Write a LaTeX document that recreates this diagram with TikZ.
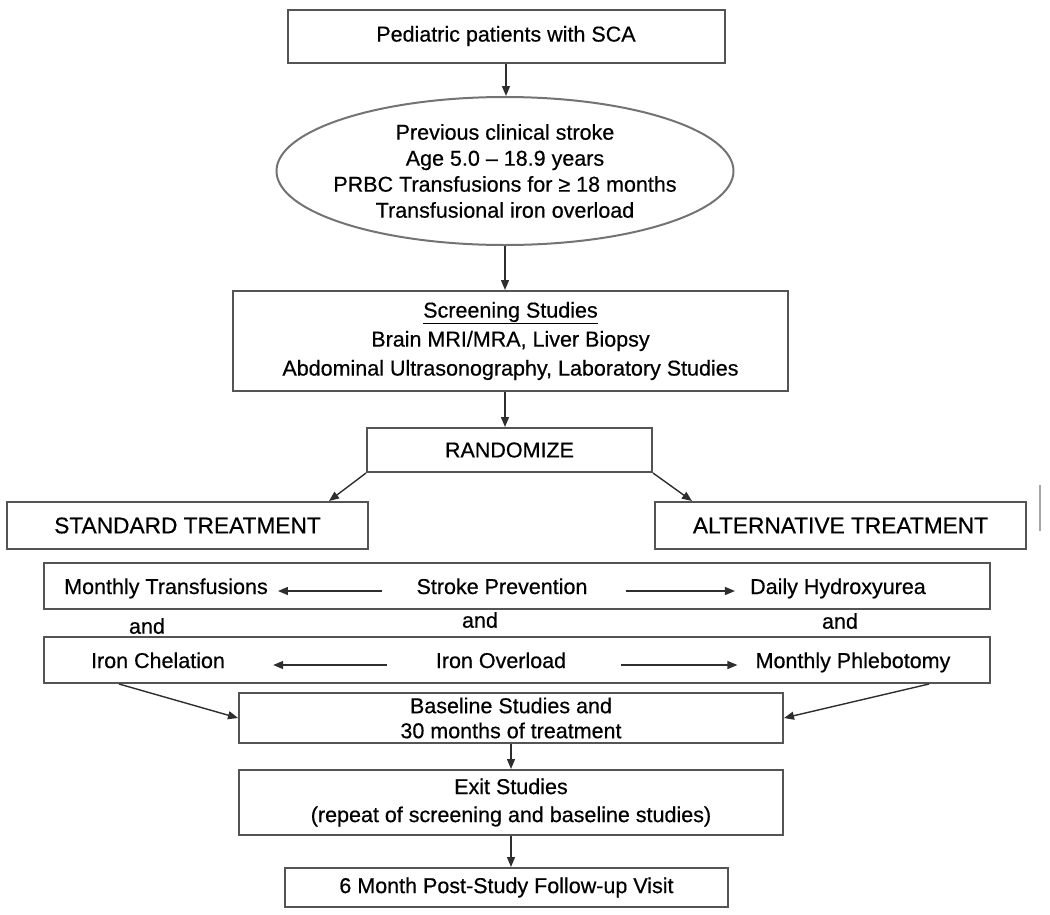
\documentclass[tikz,border=0pt]{standalone}
\usepackage{fontspec}
\setmainfont[FakeBold=0.5]{Liberation Sans}
\usetikzlibrary{shapes.geometric,arrows.meta}

\newlength{\du}
\setlength{\du}{1pt}

\definecolor{boxcolor}{rgb}{0.33,0.33,0.33}
\definecolor{ovalcolor}{rgb}{0.45,0.45,0.45}
\definecolor{arrowcolor}{rgb}{0.18,0.18,0.18}

\tikzset{
  stagebox/.style={draw=boxcolor, line width=2pt, inner sep=0pt, align=center},
  txt/.style={inner sep=0pt, align=center},
  rowtxt/.style={inner sep=0pt, text height=11pt, text depth=5pt},
  flow/.style={draw=arrowcolor, line width=1.4pt, -{Triangle[length=10pt,width=8pt]}},
}

\begin{document}
\begin{tikzpicture}[x=1\du,y=-1\du,font=\fontsize{21.5}{26}\selectfont]
\useasboundingbox (0,0) rectangle (1050,914);

\node[stagebox, minimum width=437\du, minimum height=53\du] (pat) at (506,36) {Pediatric patients with SCA};
\node[draw=ovalcolor, line width=2pt, ellipse, inner sep=0pt, minimum width=457\du, minimum height=148\du] (elig) at (505,171) {};
\node[txt] (eligtext) at (elig.center) {Previous clinical stroke\\Age 5.0 -- 18.9 years\\PRBC Transfusions for ≥ 18 months\\Transfusional iron overload};
\node[stagebox, minimum width=555\du, minimum height=100\du, font=\fontsize{21.5}{29}\selectfont] (screen) at (510.5,341) {\underline{Screening Studies}\\Brain MRI/MRA, Liver Biopsy\\Abdominal Ultrasonography, Laboratory Studies};
\node[stagebox, minimum width=285\du, minimum height=44\du] (rand) at (509.5,450) {RANDOMIZE};

\node[stagebox, minimum width=361\du, minimum height=47\du, font=\fontsize{22.7}{27}\selectfont] (std) at (187.5,525.5) {STANDARD TREATMENT};
\node[stagebox, minimum width=371\du, minimum height=47\du, font=\fontsize{22.7}{27}\selectfont] (alt) at (840.5,525.5) {ALTERNATIVE TREATMENT};
\draw[draw=gray!70, line width=1.2pt] (1040,485) -- (1040,531);

% treatment rows
\node[stagebox, minimum width=946\du, minimum height=46\du] (stroke) at (517,586) {};
\node[stagebox, minimum width=946\du, minimum height=46\du] (iron) at (517,660) {};
\node[rowtxt] (mtrans) at (166,591) {Monthly Transfusions};
\node[rowtxt] (sprev) at (502,591) {Stroke Prevention};
\node[rowtxt] (hydrox) at (838,591) {Daily Hydroxyurea};
\node[txt] (and1) at (147,626) {and};
\node[txt] (and2) at (480,620) {and};
\node[txt] (and3) at (840,621) {and};
\node[rowtxt] (chel) at (158,665) {Iron Chelation};
\node[rowtxt] (ioverl) at (501,665) {Iron Overload};
\node[rowtxt] (phleb) at (853,665) {Monthly Phlebotomy};

\node[stagebox, minimum width=544\du, minimum height=50\du, font=\fontsize{21.5}{25}\selectfont] (base) at (511,718) {Baseline Studies and\\30 months of treatment};
\node[stagebox, minimum width=544\du, minimum height=65\du, font=\fontsize{21.5}{28}\selectfont] (exit) at (511,802.5) {Exit Studies\\(repeat of screening and baseline studies)};
\node[stagebox, minimum width=443\du, minimum height=39\du] (follow) at (506.5,887.5) {6 Month Post-Study Follow-up Visit};

\draw[flow] (pat.south) -- (pat.south |- elig.north);
\draw[flow] (elig.south) -- (elig.south |- screen.north);
\draw[flow] (elig.south |- screen.south) -- (elig.south |- rand.north);
\draw[flow] (rand.south west) -- ([xshift=-40pt]std.north east);
\draw[flow] (rand.south east) -- ([xshift=38pt]alt.north west);
\draw[flow, shorten <=34pt, shorten >=10pt] (sprev.west) -- (mtrans.east);
\draw[flow, shorten <=38pt, shorten >=15pt] (sprev.east) -- (hydrox.west);
\draw[flow, shorten <=49pt, shorten >=48pt] (ioverl.west) -- (chel.east);
\draw[flow, shorten <=55pt, shorten >=18pt] (ioverl.east) -- (phleb.west);
\draw[flow] ([xshift=76pt]iron.south west) -- (base.west);
\draw[flow] ([xshift=-62pt]iron.south east) -- (base.east);
\draw[flow] (base.south) -- (exit.north);
\draw[flow] (exit.south) -- (exit.south |- follow.north);
\end{tikzpicture}
\end{document}
